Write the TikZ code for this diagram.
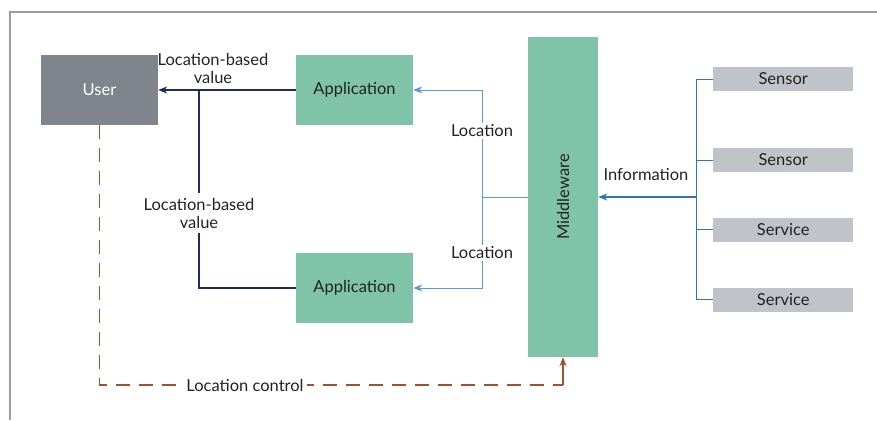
\documentclass[tikz,border=0pt]{standalone}
\usepackage{fontspec}
\setmainfont{Lato}
\usetikzlibrary{arrows.meta}
\definecolor{usergray}{HTML}{7F848D}
\definecolor{appgreen}{HTML}{7FC3A8}
\definecolor{srcgray}{HTML}{C0C3CA}
\definecolor{navy}{HTML}{1F2A6B}
\definecolor{lblue}{HTML}{5B9BD5}
\definecolor{mblue}{HTML}{2E75B6}
\definecolor{brownc}{HTML}{A0522D}
\definecolor{framegray}{HTML}{9A9EA3}
\definecolor{txt}{HTML}{222222}
\begin{document}
\begin{tikzpicture}[x=1pt,y=-1pt,
  every node/.style={font=\fontsize{16.5}{18}\selectfont, text=txt},
  box/.style={minimum width=117pt, minimum height=70pt, inner sep=0pt},
  srcbox/.style={fill=srcgray, minimum width=140pt, minimum height=24pt, inner sep=0pt, anchor=west},
  lbl/.style={fill=white, inner sep=1.5pt, align=center},
  navyline/.style={draw=navy, line width=1.1pt},
  lblueline/.style={draw=lblue, line width=1pt},
  arr/.style={-{Stealth[length=9pt,width=7pt]}}
]
\useasboundingbox (0,0) rectangle (877,420);
\draw[framegray, line width=1.2pt] (10,420) -- (10,12) -- (877,12);

\node[box, fill=usergray, text=white] (user) at (99.5,90) {User};
\node[box, fill=appgreen] (app1) at (354.5,90) {Application};
\node[box, fill=appgreen] (app2) at (354.5,288) {Application};
\node[fill=appgreen, minimum width=70pt, minimum height=320pt, inner sep=0pt] (mw) at (563,197) {};
\node[rotate=90] (mwt) at (mw.center) {Middleware};

\node[srcbox] (s1) at (713,79) {Sensor};
\node[srcbox] (s2) at (713,160) {Sensor};
\node[srcbox] (s3) at (713,229.5) {Service};
\node[srcbox] (s4) at (713,299.5) {Service};

% right bus
\coordinate (rb) at (696,197);
\draw[mblue, line width=1pt] (s1.west) -| (rb) |- (s4.west);
\draw[mblue, line width=1pt] (s2.west) -- (s2.west -| rb);
\draw[mblue, line width=1pt] (s3.west) -- (s3.west -| rb);
\draw[mblue, line width=1.6pt, arr] (rb) -- (rb -| mw.east);
\node (info) at (646,175) {Information};

% left bus
\coordinate (lb) at (482,197);
\draw[lblueline] (mw.west |- lb) -- (lb);
\draw[lblueline, arr] (lb) |- (app1.east);
\draw[lblueline, arr] (lb) |- (app2.east);
\node[lbl] (loc1) at (482,131) {Location};
\node[lbl] (loc2) at (482,253) {Location};

% navy
\coordinate (nb) at (199,90);
\draw[navyline, arr] (app1.west) -- (user.east);
\draw[navyline] (nb) |- (app2.west);
\node[lbl, inner sep=0pt, fill=none] (lbv1) at (213,68) {Location-based\\value};
\node[lbl, inner sep=5pt] (lbv2) at (199,213) {Location-based\\value};

% dashed
\coordinate (dc1) at (user.south |- 0,385);
\coordinate (dc2) at (mw.south |- 0,385);
\draw[brownc, line width=1.3pt, dash pattern=on 14pt off 9pt] (user.south) -- (dc1) -- (dc2);
\draw[brownc, line width=1.3pt, arr] (dc2) -- (mw.south);
\node[lbl, inner sep=3pt] (lc) at (245,385) {Location control};
\end{tikzpicture}
\end{document}
